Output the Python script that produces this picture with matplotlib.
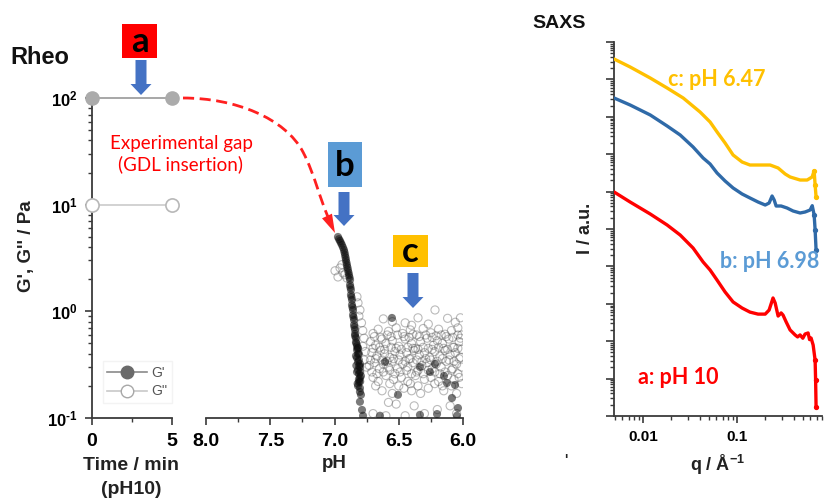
import numpy as np
import matplotlib
matplotlib.use("Agg")
import matplotlib.pyplot as plt
from matplotlib.patches import Rectangle, Polygon, PathPatch
from matplotlib.path import Path
from matplotlib.lines import Line2D
from matplotlib.ticker import (FixedLocator, FuncFormatter, LogLocator,
                               NullFormatter, MultipleLocator)

plt.rcParams['font.family'] = ['Liberation Sans', 'DejaVu Sans']
plt.rcParams['font.weight'] = 'bold'
plt.rcParams['mathtext.fontset'] = 'custom'
plt.rcParams['mathtext.rm'] = 'Liberation Sans:bold'
plt.rcParams['mathtext.it'] = 'Liberation Sans:bold'
plt.rcParams['mathtext.bf'] = 'Liberation Sans:bold'

# ---------------- rheology: initial plateau at pH 10 ----------------
time_min = [0, 5]
g1_time = [100, 100]
g2_time = [10, 10]

# ---------------- rheology: acidification (vs pH) ----------------
ph_g1 = [6.973, 6.957, 6.942, 6.926, 6.918, 6.911, 6.903, 6.895, 6.887, 6.879,
         6.879, 6.872, 6.872, 6.864, 6.864, 6.856, 6.856, 6.848, 6.848, 6.840,
         6.840, 6.833, 6.833, 6.825, 6.825, 6.817, 6.825, 6.817, 6.809, 6.817,
         6.809, 6.802, 6.809, 6.802, 6.794, 6.802, 6.786, 6.778, 6.840, 6.817,
         6.833, 6.802, 6.825, 6.794, 6.817, 6.802, 6.820, 6.810, 6.830, 6.800,
         6.810, 6.820, 6.800, 6.830, 6.810, 6.800,
         6.965, 6.950, 6.934, 6.922, 6.914, 6.907, 6.899, 6.891, 6.883, 6.876,
         6.868, 6.860, 6.852, 6.844,
         6.553, 6.607, 6.335, 6.218, 6.125, 6.086, 6.039, 6.335, 6.202, 6.047,
         6.646, 6.257, 6.148, 6.062, 6.506]
g1_ph = [4.98, 4.57, 4.19, 3.76, 3.38, 3.03, 2.72, 2.44, 2.19, 1.97,
         1.77, 1.59, 1.43, 1.28, 1.15, 1.03, 0.925, 0.83, 0.746, 0.67,
         0.614, 0.563, 0.516, 0.474, 0.435, 0.399, 0.366, 0.336, 0.308, 0.282,
         0.259, 0.238, 0.218, 0.191, 0.165, 0.142, 0.119, 0.105, 0.587, 0.454,
         0.382, 0.321, 0.270, 0.248, 0.200, 0.176, 0.45, 0.35, 0.31, 0.27,
         0.23, 0.21, 0.30, 0.50, 0.40, 0.22,
         4.75, 4.38, 3.97, 3.57, 3.20, 2.87, 2.58, 2.31, 2.08, 1.68,
         1.36, 1.09, 0.88, 0.71,
         0.867, 0.336, 0.301, 0.321, 0.213, 0.154, 0.124, 0.107, 0.109, 0.105,
         0.105, 0.270, 0.248, 0.204, 0.165]

ph_g2 = [6.996, 6.957, 6.934, 6.973, 6.903, 6.942, 6.920,
         6.825, 6.817, 6.802, 6.810, 6.790, 6.780, 6.770, 6.780, 6.760, 6.770, 6.750,
         6.62, 6.35, 6.218, 6.12, 6.02, 6.45, 6.27, 6.55, 6.40, 6.06,
         6.70, 6.66, 6.58, 6.52, 6.47, 6.41, 6.36, 6.31, 6.25, 6.19, 6.14, 6.09, 6.04, 6.01,
         6.72, 6.68, 6.63, 6.60, 6.55, 6.50, 6.45, 6.40, 6.37, 6.33, 6.28, 6.23, 6.20, 6.16,
         6.11, 6.07, 6.03,
         6.71, 6.67, 6.64, 6.61, 6.57, 6.53, 6.49, 6.44, 6.42, 6.38, 6.34, 6.30, 6.26, 6.22,
         6.18, 6.14, 6.10, 6.06, 6.02,
         6.73, 6.69, 6.65, 6.62, 6.58, 6.55, 6.51, 6.47, 6.43, 6.39, 6.35, 6.32, 6.28, 6.24,
         6.21, 6.17, 6.13, 6.08, 6.05, 6.01,
         6.70, 6.66, 6.60, 6.54, 6.48, 6.43, 6.37, 6.30, 6.25, 6.19, 6.12, 6.07, 6.03,
         6.63, 6.55, 6.46, 6.40, 6.33, 6.27, 6.15, 6.05,
         6.58, 6.52, 6.38, 6.20, 6.10, 6.70, 6.60, 6.45, 6.30, 6.05,
         6.69, 6.64, 6.59, 6.56, 6.51, 6.46, 6.42, 6.39, 6.34, 6.29, 6.24, 6.21, 6.17,
         6.13, 6.08, 6.04, 6.02,
         6.70, 6.65, 6.61, 6.56, 6.52, 6.48, 6.43, 6.39, 6.35, 6.31, 6.27, 6.24, 6.19,
         6.15, 6.12, 6.08, 6.04, 6.01,
         6.72, 6.68, 6.63, 6.59, 6.54, 6.50, 6.45, 6.41, 6.36, 6.32, 6.29, 6.25, 6.20,
         6.16, 6.11, 6.07, 6.03,
         6.71, 6.67, 6.62, 6.57, 6.53, 6.49, 6.44, 6.40, 6.36, 6.31, 6.27, 6.22, 6.18,
         6.14, 6.09, 6.04,
         6.68, 6.57, 6.50, 6.41, 6.35, 6.22, 6.16, 6.09, 6.01]
g2_ph = [2.40, 2.55, 2.29, 2.10, 2.05, 2.74, 2.20,
         1.37, 1.20, 1.03, 0.90, 0.78, 0.66, 0.56, 0.47, 0.42, 0.35, 0.30,
         0.85, 0.87, 1.03, 0.86, 0.87, 0.78, 0.76, 0.80, 0.74, 0.79,
         0.62, 0.68, 0.65, 0.70, 0.62, 0.67, 0.60, 0.69, 0.63, 0.68, 0.61, 0.66, 0.70, 0.60,
         0.52, 0.48, 0.55, 0.50, 0.53, 0.47, 0.55, 0.50, 0.45, 0.52, 0.56, 0.48, 0.53, 0.50,
         0.55, 0.46, 0.52,
         0.41, 0.38, 0.43, 0.40, 0.37, 0.42, 0.39, 0.41, 0.36, 0.43, 0.39, 0.41, 0.37, 0.42,
         0.38, 0.43, 0.39, 0.41, 0.37,
         0.31, 0.33, 0.29, 0.32, 0.30, 0.34, 0.29, 0.32, 0.30, 0.33, 0.28, 0.31, 0.33, 0.29,
         0.32, 0.30, 0.34, 0.29, 0.32, 0.30,
         0.24, 0.22, 0.25, 0.23, 0.24, 0.22, 0.25, 0.23, 0.24, 0.22, 0.25, 0.23, 0.24,
         0.18, 0.17, 0.19, 0.18, 0.17, 0.19, 0.18, 0.17,
         0.14, 0.135, 0.13, 0.12, 0.13, 0.11, 0.105, 0.105, 0.11, 0.11,
         0.58, 0.57, 0.60, 0.58, 0.60, 0.58, 0.57, 0.61, 0.58, 0.60, 0.57, 0.59, 0.60,
         0.58, 0.57, 0.60, 0.56,
         0.45, 0.46, 0.44, 0.46, 0.45, 0.44, 0.46, 0.45, 0.44, 0.46, 0.45, 0.44, 0.46,
         0.45, 0.44, 0.46, 0.45, 0.44,
         0.35, 0.36, 0.35, 0.34, 0.36, 0.35, 0.34, 0.36, 0.35, 0.34, 0.36, 0.35, 0.34,
         0.36, 0.35, 0.34, 0.36,
         0.27, 0.26, 0.27, 0.28, 0.26, 0.27, 0.28, 0.26, 0.27, 0.26, 0.28, 0.27, 0.26,
         0.27, 0.28, 0.26,
         0.20, 0.21, 0.20, 0.21, 0.20, 0.21, 0.20, 0.20, 0.21]

# ---------------- SAXS profiles ----------------
q_a = [0.00491, 0.00727, 0.0119, 0.0180, 0.0248, 0.0340, 0.0435, 0.0516, 0.0612,
       0.0745, 0.0906, 0.113, 0.137, 0.167, 0.199, 0.219, 0.241, 0.254, 0.273,
       0.294, 0.308, 0.332, 0.366, 0.414, 0.440, 0.468, 0.500, 0.529, 0.569,
       0.590, 0.612, 0.644, 0.676, 0.684, 0.692]
I_a = [976, 527, 252, 128, 69, 31, 13.1, 8.0, 4.3,
       2.07, 1.12, 0.77, 0.60, 0.53, 0.53, 0.68, 1.43, 1.05, 0.47,
       0.57, 0.50, 0.33, 0.20, 0.147, 0.13, 0.147, 0.12, 0.156, 0.166,
       0.11, 0.122, 0.079, 0.031, 0.0092, 0.00174]

q_b = [0.00491, 0.00727, 0.0119, 0.0180, 0.0248, 0.0340, 0.0435, 0.0516, 0.0612,
       0.0745, 0.0906, 0.113, 0.137, 0.167, 0.199, 0.219, 0.2355, 0.248, 0.260,
       0.294, 0.340, 0.394, 0.468, 0.529, 0.598, 0.630, 0.660, 0.676, 0.692]
I_b = [3.18e5, 2.07e5, 1.12e5, 5.68e4, 3.26e4, 1.56e4, 7.91e3, 5.47e3, 3.14e3,
       1.92e3, 1.25e3, 863, 675, 527, 438, 495, 762, 596, 412,
       412, 364, 303, 268, 285, 322, 420, 237, 94, 27.5]

q_c = [0.00491, 0.00727, 0.0119, 0.0180, 0.0267, 0.0404, 0.0516, 0.0612, 0.0745,
       0.0906, 0.113, 0.137, 0.176, 0.2245, 0.273, 0.3245, 0.366, 0.468, 0.556,
       0.628, 0.660, 0.676, 0.692]
I_c = [3.51e6, 2.15e6, 1.09e6, 5.89e5, 3.18e5, 1.34e5, 7.26e4, 3.93e4, 1.99e4,
       9.53e3, 6.18e3, 5.14e3, 5.14e3, 5.14e3, 4.28e3, 2.96e3, 2.46e3, 2.04e3, 2.04e3,
       2.46e3, 3.6e3, 1.50e3, 718]

# ---------------- figure & helpers ----------------
W, H = 827, 501
fig = plt.figure(figsize=(W / 100, H / 100), dpi=100)


def fx(px):
    return px / W


def fy(py):
    return 1 - py / H


def box(l, t, r, b):
    return [l / W, 1 - b / H, (r - l) / W, (b - t) / H]


SPINE = '#3a3a3a'


def style_ticks(ax, labelsize):
    ax.tick_params(which='major', direction='out', length=5, width=1.2,
                   color=SPINE, labelsize=labelsize, pad=5)
    ax.tick_params(which='minor', direction='out', length=3, width=1.0,
                   color=SPINE)
    for lbl in ax.get_xticklabels() + ax.get_yticklabels():
        lbl.set_fontweight('bold')


def pow10(v, _):
    e = int(round(np.log10(v)))
    return r'$10^{%s}$' % (('\u2010%d' % -e) if e < 0 else str(e))


# --- time panel ---
ax_t = fig.add_axes(box(92, 98, 172, 418))
ax_t.set_yscale('log')
ax_t.set_ylim(0.1, 100)
ax_t.set_xlim(0, 5)
ax_t.plot(time_min, g1_time, '-o', color='#a0a0a0', lw=1.3, ms=9.5,
          mfc='#ababab', mec='#ababab', clip_on=False, zorder=3)
ax_t.plot(time_min, g2_time, '-o', color='#cfcfcf', lw=1.3, ms=9.5,
          mfc='white', mec='#b8b8b8', mew=1.2, clip_on=False, zorder=3)
for s in ('top', 'right'):
    ax_t.spines[s].set_visible(False)
for s in ('left', 'bottom'):
    ax_t.spines[s].set_color(SPINE)
    ax_t.spines[s].set_linewidth(1.3)
ax_t.xaxis.set_major_locator(FixedLocator([0, 5]))
ax_t.xaxis.set_minor_locator(FixedLocator([2.5]))
ax_t.yaxis.set_major_locator(LogLocator(base=10, numticks=10))
ax_t.yaxis.set_minor_locator(LogLocator(base=10, subs=np.arange(2, 10), numticks=100))
ax_t.yaxis.set_major_formatter(FuncFormatter(pow10))
ax_t.yaxis.set_minor_formatter(NullFormatter())
style_ticks(ax_t, 12)
ax_t.tick_params(axis='x', labelsize=14, pad=6)

# --- pH panel ---
ax_p = fig.add_axes(box(206, 98, 463, 418))
ax_p.set_yscale('log')
ax_p.set_ylim(0.1, 100)
ax_p.set_xlim(8.0, 6.0)
ax_p.scatter(ph_g2, g2_ph, s=34, facecolors='none',
             edgecolors=(0.3, 0.3, 0.3, 0.38), linewidths=0.8, zorder=2)
ax_p.scatter(ph_g1, g1_ph, s=34, color=(0.05, 0.05, 0.05, 0.55),
             edgecolors='none', zorder=3)
for s in ('top', 'right', 'left'):
    ax_p.spines[s].set_visible(False)
ax_p.spines['bottom'].set_color(SPINE)
ax_p.spines['bottom'].set_linewidth(1.3)
ax_p.yaxis.set_visible(False)
ax_p.xaxis.set_major_locator(MultipleLocator(0.5))
ax_p.xaxis.set_minor_locator(MultipleLocator(0.25))
ax_p.xaxis.set_major_formatter(FuncFormatter(lambda v, _: '%.1f' % v))
style_ticks(ax_p, 14)
ax_p.tick_params(axis='x', pad=6)

# --- SAXS panel ---
ax_s = fig.add_axes(box(614, 42, 822, 416))
ax_s.set_xscale('log')
ax_s.set_yscale('log')
ax_s.set_xlim(0.0049, 0.80)
ax_s.set_ylim(1e-3, 1e7)
curves = [(q_a, I_a, '#FF0000'), (q_b, I_b, '#2F6AA8'), (q_c, I_c, '#FFC000')]
for q, I, c in curves:
    ax_s.plot(q, I, '-', color=c, lw=2.4, solid_capstyle='round', zorder=3)
    ax_s.plot(q[-3:], I[-3:], 'o-', color=c, lw=0.8, ms=2.8, zorder=3)
for s in ('top', 'right'):
    ax_s.spines[s].set_visible(False)
for s in ('left', 'bottom'):
    ax_s.spines[s].set_color(SPINE)
    ax_s.spines[s].set_linewidth(1.3)
ax_s.xaxis.set_major_locator(FixedLocator([0.01, 0.1]))
ax_s.xaxis.set_minor_locator(LogLocator(base=10, subs=np.arange(2, 10), numticks=100))
ax_s.xaxis.set_major_formatter(FuncFormatter(lambda v, _: '%g' % v))
ax_s.xaxis.set_minor_formatter(NullFormatter())
ax_s.yaxis.set_major_locator(LogLocator(base=10, numticks=20))
ax_s.yaxis.set_minor_locator(LogLocator(base=10, subs=np.arange(2, 10), numticks=100))
ax_s.yaxis.set_major_formatter(NullFormatter())
ax_s.yaxis.set_minor_formatter(NullFormatter())
style_ticks(ax_s, 11)
ax_s.tick_params(axis='y', which='major', length=6)

# --- legend (G', G'') ---
handles = [Line2D([], [], color='#8a8a8a', lw=1.2, marker='o', ms=9,
                  mfc='#6a6a6a', mec='#6a6a6a'),
           Line2D([], [], color='#c8c8c8', lw=1.2, marker='o', ms=9,
                  mfc='white', mec='#a8a8a8')]
fig.legend(handles, ["G'", "G''"], loc='center left',
           bbox_to_anchor=(fx(96), fy(382)), frameon=True, fancybox=False,
           edgecolor='#f3f3f3', facecolor='white', framealpha=1,
           handlelength=2.9, handletextpad=0.3, borderpad=0.3,
           labelspacing=0.35, prop={'family': 'Liberation Sans',
                                    'weight': 'normal', 'size': 10},
           labelcolor='#555555')

# --- text labels ---
fig.text(fx(10), fy(57), 'Rheo', fontsize=17, fontweight='bold',
         ha='left', va='center', color='#111111')
fig.text(fx(532), fy(24), 'SAXS', fontsize=14, fontweight='bold',
         ha='left', va='center', color='#111111')
fig.text(fx(26), fy(246), "G', G'' / Pa", fontsize=13.5, fontweight='bold',
         rotation=90, ha='center', va='center', color='#222222')
fig.text(fx(131), fy(466), 'Time / min', fontsize=14, fontweight='bold',
         ha='center', va='center', color='#222222')
fig.text(fx(131), fy(490), '(pH10)', fontsize=14, fontweight='bold',
         ha='center', va='center', color='#222222')
fig.text(fx(334), fy(463), 'pH', fontsize=13.5, fontweight='bold',
         ha='center', va='center', color='#222222')
fig.text(fx(585), fy(228), 'I / a.u.', fontsize=13, fontweight='bold',
         rotation=90, ha='center', va='center', color='#222222')
fig.text(fx(718), fy(465), r'q / Å$^{-1}$', fontsize=13, fontweight='bold',
         ha='center', va='center', color='#222222')
fig.text(fx(566), fy(460), "'", fontsize=10, fontweight='bold',
         ha='center', va='center', color='#222222')

CAL = ['Lato', 'DejaVu Sans']
fig.text(fx(181), fy(154), 'Experimental gap\n(GDL insertion)', family=CAL,
         fontsize=13.5, color='#FF0000', ha='center', va='center',
         linespacing=1.25, fontweight='normal')
fig.text(fx(717), fy(79), 'c: pH 6.47', family=CAL, fontsize=15.5,
         fontweight='bold', color='#FFC000', ha='center', va='center')
fig.text(fx(770), fy(262), 'b: pH 6.98', family=CAL, fontsize=15.5,
         fontweight='bold', color='#5B9BD5', ha='center', va='center')
fig.text(fx(678), fy(378), 'a: pH 10', family=CAL, fontsize=15.5,
         fontweight='bold', color='#FF0000', ha='center', va='center')

# --- sample markers a / b / c with arrows ---
BLUE = '#4472C4'


def letter_box(l, t, r, b, color, letter):
    fig.add_artist(Rectangle((fx(l), fy(b)), (r - l) / W, (b - t) / H,
                             transform=fig.transFigure, color=color, lw=0))
    fig.text(fx((l + r) / 2), fy((t + b) / 2 + 1), letter, family=CAL,
             fontsize=25, fontweight='bold', color='black',
             ha='center', va='center')


def block_arrow(xc, top, tip, body=5.5, head=10.5, head_len=11):
    pts = [(xc - body, top), (xc + body, top), (xc + body, tip - head_len),
           (xc + head, tip - head_len), (xc, tip), (xc - head, tip - head_len),
           (xc - body, tip - head_len)]
    fig.add_artist(Polygon([(fx(x), fy(y)) for x, y in pts], closed=True,
                           transform=fig.transFigure, color=BLUE, lw=0))


letter_box(122, 24, 157, 58, '#FF0000', 'a')
letter_box(328, 142, 362, 187, '#5B9BD5', 'b')
letter_box(393, 235, 428, 267, '#FFC000', 'c')
block_arrow(141, 60, 95)
block_arrow(344, 192, 226)
block_arrow(413, 273, 308)

# --- dashed "experimental gap" arrow ---
verts = [(183, 98), (235, 98), (285, 118), (303, 152),
         (315, 175), (320, 200), (329, 219)]
codes = [Path.MOVETO, Path.CURVE4, Path.CURVE4, Path.CURVE4,
         Path.CURVE4, Path.CURVE4, Path.CURVE4]
gap_path = Path([(fx(x), fy(y)) for x, y in verts], codes)
fig.add_artist(PathPatch(gap_path, transform=fig.transFigure, fill=False,
                         edgecolor='#FF2020', lw=2.0, linestyle=(0, (4, 2))))
tip = np.array([335.0, 233.0])
base = np.array([327.0, 216.0])
d = (tip - base) / np.linalg.norm(tip - base)
perp = np.array([-d[1], d[0]])
head_pts = [tip, base + 5.5 * perp, base - 5.5 * perp]
fig.add_artist(Polygon([(fx(x), fy(y)) for x, y in head_pts], closed=True,
                       transform=fig.transFigure, color='#FF2020', lw=0))

fig.savefig('out.png', dpi=100)
